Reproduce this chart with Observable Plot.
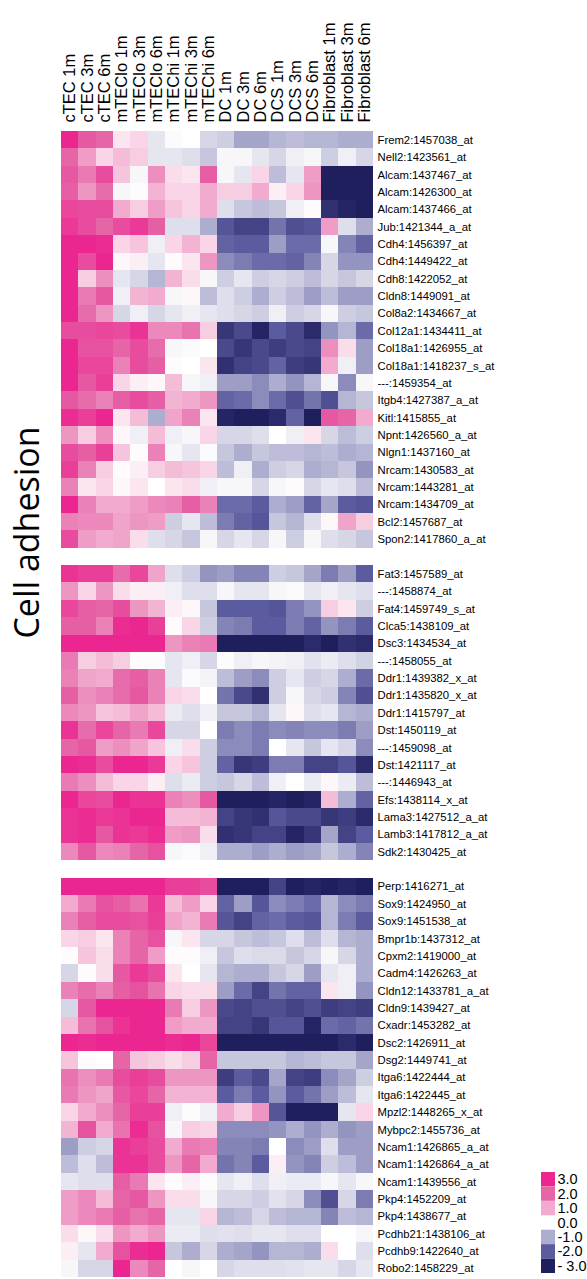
<!DOCTYPE html>
<html><head><meta charset="utf-8">
<script src="https://cdn.jsdelivr.net/npm/d3@7"></script>
<script src="https://cdn.jsdelivr.net/npm/@observablehq/plot@0.6"></script>
<style>
html,body{margin:0;padding:0;background:#fff;}
#wrap{position:relative;width:587px;height:1279px;overflow:hidden;}
#legend{position:absolute;left:535px;top:1165px;}
svg{overflow:visible;}
</style></head><body><div id="wrap"><div id="main"></div><div id="legend"></div></div>
<script>
const columns = ["cTEC 1m","cTEC 3m","cTEC 6m","mTEClo 1m","mTEClo 3m","mTEClo 6m","mTEChi 1m","mTEChi 3m","mTEChi 6m","DC 1m","DC 3m","DC 6m","DCS 1m","DCS 3m","DCS 6m","Fibroblast 1m","Fibroblast 3m","Fibroblast 6m"];

const block1Labels = ["Frem2:1457038_at","Nell2:1423561_at","Alcam:1437467_at","Alcam:1426300_at","Alcam:1437466_at","Jub:1421344_a_at","Cdh4:1456397_at","Cdh4:1449422_at","Cdh8:1422052_at","Cldn8:1449091_at","Col8a2:1434667_at","Col12a1:1434411_at","Col18a1:1426955_at","Col18a1:1418237_s_at","---:1459354_at","Itgb4:1427387_a_at","Kitl:1415855_at","Npnt:1426560_a_at","Nlgn1:1437160_at","Nrcam:1430583_at","Nrcam:1443281_at","Nrcam:1434709_at","Bcl2:1457687_at","Spon2:1417860_a_at"];
const block1Values = [
[3,2.2,2,0.3,0.5,-0.3,-0.05,0,-0.5,-0.6,-1.1,-1.1,-0.9,-0.8,-0.9,-0.9,-1,-1],
[2,1.2,0.5,0.8,0.6,-0.3,-0.3,-0.4,-0.7,-0.1,-0.1,-0.3,-0.5,-0.2,-0.1,-0.6,-0.2,-0.5],
[2.2,1.7,2.4,0.7,-0.1,1.4,0.4,0.3,2.1,-0.1,-0.3,0.5,-0.8,-0.3,1.2,-3,-3,-3],
[2.1,1.3,1.9,-0.1,0.05,0.9,0.5,0.5,1,0.6,0.6,1,0.2,0.5,1.3,-3,-3,-3],
[2.5,2.4,2.4,1,0.6,1.2,0.7,0.5,1,-0.4,-0.7,-0.8,-0.7,-0.2,0.05,-2.7,-2.9,-3],
[2.7,2.4,2,2.4,2.7,2.1,-0.4,-0.4,-1,-2.1,-2.4,-2.4,-1.7,-2.2,-2.1,1.2,-0.4,-1],
[3,3,2.9,0.5,0.7,-0.2,0.5,0.9,0.5,-1.9,-2,-2,-1.2,-1.8,-1.8,-0.1,-1.5,-1.9],
[3,2.4,3,0.1,0.2,-0.3,0.05,0.3,1.3,-1.4,-1.6,-1.8,-1.8,-1.9,-1.5,-0.5,-1.3,-1.3],
[3,0.6,1.4,-0.3,-0.5,-0.9,0.9,0.4,-0.1,-0.6,-0.3,-0.6,-0.5,-0.6,-0.8,-0.5,-0.7,-0.5],
[3,1.7,2.2,-0.2,0.9,1,-0.1,0.1,-0.8,-0.4,-0.6,-1,-0.6,-0.8,-1.2,-0.8,-1.2,-1.2],
[3,1.9,1.3,-0.5,-0.2,-0.5,-0.3,-0.2,-0.3,-0.4,-0.5,-0.6,-0.2,-0.6,-0.5,-0.1,-0.6,-0.7],
[2.4,2.4,2.5,2.4,2.8,1.5,1.5,1.8,0.6,-2.6,-2.3,-2.9,-2,-2.3,-2.8,-1.3,-0.9,-1.8],
[3,2.3,2.3,2,2.4,1.9,-0.1,-0.05,0,-2.3,-2.6,-2.3,-2.5,-2.3,-2.4,1.4,0.4,-1.2],
[3,2.5,2.5,1.6,2.4,2.1,0.05,0,0.3,-2.7,-2.4,-2.3,-1.9,-2.5,-2.6,1,-0.2,-1.2],
[3,2.2,2.6,0.5,0.2,0.1,0.8,-0.1,-0.2,-1.2,-1.2,-1.4,-1,-1.3,-0.9,-0.1,-1.4,-0.1],
[2.2,1.9,1.6,2.1,2.4,2.1,0.9,1,1.3,-1.9,-1.8,-1.4,-1.8,-2.2,-1.7,-2.2,-0.9,-0.7],
[2.9,2.6,3,0.3,0.8,-1,1.1,1.6,0.3,-2.9,-3,-3,-2.8,-1.9,-3.2,2.2,2,1],
[1.3,0.6,1.4,0.1,-0.2,0.8,-0.2,-0.1,0.5,-0.5,-0.5,-0.4,0,-0.2,0.3,-0.5,-0.8,-0.6],
[2.4,2.1,2.6,0.7,0.05,1.6,-0.1,-0.3,-0.05,-0.7,-1,-0.7,-0.8,-0.8,-0.9,-0.8,-1,-0.9],
[2.6,1.6,0.6,0.05,0.2,0.6,0.8,0.7,0.5,-0.8,-0.2,-1,-0.6,-0.5,-1,-0.9,-0.7,-1.3],
[1.6,0.3,0.5,0.1,0.3,0,0.3,0.4,-0.2,-0.1,-0.1,-0.5,-0.1,0.05,-0.5,-0.3,-0.4,-0.8],
[3,1.6,1,1,1.2,1.5,1.6,2.1,1.6,-1.8,-1.8,-2,-1,-1.2,-1.9,-1.1,-2,-2.1],
[1.6,1.5,1.5,1.1,1.3,1.2,-0.6,-0.3,-0.8,-1.6,-1.9,-2.1,-0.7,-0.9,-0.4,0.1,1.1,0.6],
[2.4,1.2,1,1.1,0.4,-0.4,-0.5,-0.7,-0.1,-0.5,-0.3,-0.5,-0.1,-0.6,-0.1,-0.4,-0.5,-0.7]
];

const block2Labels = ["Fat3:1457589_at","---:1458874_at","Fat4:1459749_s_at","Clca5:1438109_at","Dsc3:1434534_at","---:1458055_at","Ddr1:1439382_x_at","Ddr1:1435820_x_at","Ddr1:1415797_at","Dst:1450119_at","---:1459098_at","Dst:1421117_at","---:1446943_at","Efs:1438114_x_at","Lama3:1427512_a_at","Lamb3:1417812_a_at","Sdk2:1430425_at"];
const block2Values = [
[2.8,2.6,2.6,1.9,2.5,1.1,-0.4,-0.6,-1.3,-1.2,-1.5,-1.5,-0.6,-0.7,-1.1,-1.6,-1.2,-2],
[1.3,0.5,1.3,0.4,0.2,0.2,-0.2,-0.4,-0.4,-0.1,-0.3,-0.3,-0.1,-0.05,-0.3,-0.2,-0.3,-0.4],
[2.5,2.1,2,2.4,1.3,0.9,0.2,0.1,-0.7,-2,-2,-2,-2.1,-1.6,-1.3,0.6,0.3,-0.6],
[2.1,2.1,1.6,2.9,3,2.6,0.05,0.5,-0.6,-1.5,-1.6,-2,-2,-1.6,-1.9,-1.3,-1.6,-2],
[3,3,3,3,3,3,1.3,1.6,1.7,-3,-3,-3,-3,-3,-2.8,-3,-2.7,-2.8],
[1.7,0.6,0.8,0.6,0.05,0.05,-0.3,-0.2,-0.5,0.05,-0.2,-0.1,-0.15,-0.2,-0.35,-0.25,-0.4,-0.55],
[1.6,1.1,1,1.9,2.1,1.6,-0.3,-0.05,-0.15,-0.8,-1.2,-1.4,-0.6,-0.3,-0.6,-0.5,-1,-1.8],
[2.1,1.4,1.6,1.9,2.2,1.6,0.5,0.4,0,-1.7,-2.3,-2.7,-0.6,-0.1,-0.5,-0.6,-1.5,-2.2],
[1.5,1.3,0.7,0.8,1.1,0.8,-0.25,-0.4,-0.2,-0.7,-0.7,-0.9,-0.3,0.1,-0.4,-0.3,-0.9,-1],
[2.8,1.9,2.5,2,1.7,2.5,-0.5,-0.5,0,-1.6,-1.4,-1.6,-1.4,-1.5,-1.4,-1.4,-1.6,-1.2],
[2,2.2,1.2,1.4,1.1,0.7,-0.2,0.4,-0.6,-1.4,-1.4,-1.6,0,-0.3,-0.7,-0.3,-0.5,-1.4],
[3,2.9,2.4,3,3,2.7,0.5,0.7,-0.6,-1.9,-2.6,-2.5,-1.6,-1.6,-2.4,-2.4,-2.1,-2.8],
[1.7,1.4,0.8,0.5,0.5,0.2,-0.4,-0.25,-0.6,-0.7,-0.5,-0.8,-0.2,0,-0.25,0.1,-0.25,-0.8],
[3,2.5,2.4,3,2.8,2.8,1.6,1.4,2.2,-3,-3,-3,-2.9,-3,-2.9,0.8,-1,-1.9],
[2.8,2.9,2.7,2.8,3,3,0.8,0.8,0.9,-2.4,-2.6,-2.7,-2.1,-2.3,-2.3,-2.6,-2.5,-2.8],
[2.8,2.9,2.2,2.8,2.7,2.9,1.2,1.3,0.4,-2.7,-2.6,-2.4,-2.4,-2.9,-2.6,-1.1,-2.4,-2],
[1.5,2.2,1.5,1.6,2,2.3,-0.1,-0.05,-0.2,-1,-1,-1.2,-1,-1.2,-1.1,-0.7,-1,-1.5]
];

const block3Labels = ["Perp:1416271_at","Sox9:1424950_at","Sox9:1451538_at","Bmpr1b:1437312_at","Cpxm2:1419000_at","Cadm4:1426263_at","Cldn12:1433781_a_at","Cldn9:1439427_at","Cxadr:1453282_at","Dsc2:1426911_at","Dsg2:1449741_at","Itga6:1422444_at","Itga6:1422445_at","Mpzl2:1448265_x_at","Mybpc2:1455736_at","Ncam1:1426865_a_at","Ncam1:1426864_a_at","Ncam1:1439556_at","Pkp4:1452209_at","Pkp4:1438677_at","Pcdhb21:1438106_at","Pcdhb9:1422640_at","Robo2:1458229_at"];
const block3Values = [
[3,3,3,3,3,3,2.6,2.6,2.4,-3,-3,-3,-2.4,-3,-2.9,-3,-2.9,-3],
[1,1.7,2.3,2.1,1.8,2.7,0.8,1.2,0.5,-1.9,-1.2,-2.1,-1.4,-1.6,-1.8,-0.9,-1.4,-1.6],
[1.6,2.1,2.4,2.4,2.3,2.6,1.1,0.9,1.7,-2.1,-2.4,-1.9,-1.8,-2,-2.1,-0.9,-1.6,-2],
[0.5,0.6,0.3,1.6,2,2.3,-0.1,0.3,-0.5,-0.5,-0.7,-0.8,-0.7,-0.4,-0.8,-0.4,-0.9,-1],
[0.05,0.7,0.4,1.6,2,1.2,0.05,0.05,-0.2,-0.7,-0.4,-0.45,-0.45,-0.7,-0.5,-0.1,-0.5,-1],
[-0.5,0.05,0.4,2.2,2.7,2.4,0.3,0,-0.3,-0.9,-1,-1,-0.7,-0.5,-1.2,-0.3,-0.2,-1],
[1.6,1.9,1.6,2.1,2.3,1.8,0.5,0.4,0.4,-1.2,-1.8,-2.4,-1.7,-1.9,-1.9,0.3,-0.2,-1.3],
[-0.5,2.2,3,3,3,3,1.7,0.6,1.3,-2.3,-2.4,-2.2,-2.2,-2.4,-2.2,-2.5,-2.4,-2.5],
[0.8,1.8,2.3,2.8,3,3,1.2,1,1,-2.4,-2.4,-2.6,-2.1,-2.1,-2.9,-1.8,-1.9,-1.7],
[3,2.9,3,3,3,3,2.9,3,2.5,-3,-3,-3,-3,-3,-3,-3,-2.8,-3],
[0.7,0.05,0,2,0.7,0.6,0.4,0.6,2,-0.7,-0.7,-0.7,-0.7,-0.9,-0.8,-0.7,-0.7,-1.1],
[1.8,1.4,1.7,2.4,2.6,2.4,1.3,1.3,1.3,-2.5,-2,-2.3,-1.1,-2.4,-2.5,-1.4,-1.1,-0.6],
[1.7,1.3,1.1,2.2,2.5,2,0.9,0.9,0.9,-2,-1.6,-2,-1.3,-2,-1.7,-1.2,-0.8,-0.3],
[0.5,1,1.4,2,2.6,2.6,-0.2,0.05,-0.2,1,0.6,1.3,-2.1,-3,-3,-3,-0.3,0.5],
[0.9,2.3,1,1.8,2.9,2.3,-0.1,0.6,0.5,-1.4,-1.4,-1.4,-1.3,-1,-1.3,-1,-1.3,-1.2],
[-1.2,-0.6,-0.5,2.8,2.6,2.4,1,1.7,1.6,-1.5,-1.5,-1.6,0,-1.4,-1.2,-0.4,-1.2,-1.2],
[-0.8,-0.4,-0.8,2.8,2.8,2.4,1.3,2,1,-1.7,-1.5,-2,0.2,-1.3,-1.5,-0.6,-0.8,-1.2],
[-0.3,-0.4,-0.4,2.1,1.7,0.3,0.05,0.2,0.05,-0.3,-0.2,-0.4,-0.2,-0.25,-0.25,-0.1,-0.3,-0.1],
[1.2,1.5,0.8,2,2.2,1.3,0.4,0.4,-0.1,-0.5,-0.5,-0.6,-0.35,-0.5,-1.4,-2.2,-0.5,-1.6],
[1.2,1.5,1.7,2.1,1.8,2,-0.3,-0.3,0.5,-0.9,-0.8,-0.5,-0.8,-0.9,-0.9,-1.5,-0.8,-0.9],
[0.4,0.1,0.4,1.3,1,1.3,-0.25,-0.25,-0.4,-0.35,-0.4,-0.3,-0.3,-0.4,-0.4,0,0,-0.1],
[0.2,-0.3,1,2.3,2.9,3,-0.7,-1,-0.5,-1,-1.1,-1.3,-0.9,-0.9,-1,0.4,0,-0.4],
[-0.1,-0.5,-0.5,3,1.5,2,0,-0.1,0,-0.5,-0.4,-0.4,-0.4,-0.35,-0.3,-0.3,-0.5,-0.3]
];

const sideTitle = "Cell adhesion";
const legendValues = [3, 2, 1, 0, -1, -2, -3];
const legendLabels = ["3.0", "2.0", "1.0", "0.0", "-1.0", "-2.0", "- 3.0"];
const legendColors = ["#ec2690", "#e565a7", "#f2abce", "#ffffff", "#adadcf", "#5b5b9f", "#1f1f5e"];

// build tidy table
const data = [];
function addBlock(labels, values) {
  labels.forEach((lab, i) => columns.forEach((c, j) => data.push({row: lab, col: c, value: values[i][j]})));
}
addBlock(block1Labels, block1Values);
addBlock(block2Labels, block2Values);
addBlock(block3Labels, block3Values);
const yDomain = [...block1Labels, "gap1", ...block2Labels, "gap2", ...block3Labels];

const colorScale = {
  type: "linear",
  domain: legendValues.slice().reverse(),
  range: legendColors.slice().reverse(),
  interpolate: "rgb",
  clamp: true
};
const font = "'Liberation Sans', Arial, Helvetica, sans-serif";

const main = Plot.plot({
  width: 587,
  height: 1279,
  marginTop: 131,
  marginBottom: 2,
  marginLeft: 61,
  marginRight: 214,
  style: {fontFamily: font, color: "#000", background: "#fff"},
  x: {domain: columns, padding: 0, round: false, axis: null},
  y: {domain: yDomain, padding: 0, round: false, axis: null},
  color: colorScale,
  marks: [
    Plot.cell(data, {x: "col", y: "row", fill: "value", inset: 0, shapeRendering: "crispEdges"}),
    Plot.axisX({anchor: "top", tickRotate: -90, tickSize: 0, tickPadding: 9, fontSize: 16.5, label: null, fill: "#000"}),
    Plot.axisY({anchor: "right", tickSize: 0, tickPadding: 4, fontSize: 11.3, label: null, fill: "#000",
      tickFormat: d => d.startsWith("gap") ? "" : d}),
    Plot.text([sideTitle], {frameAnchor: "left", rotate: -90, dx: -33, dy: -172, fontSize: 34,
      fontFamily: "'Open Sans', 'Noto Sans', sans-serif", textAnchor: "middle", lineAnchor: "middle", fill: "#000"})
  ]
});
document.getElementById("main").appendChild(main);

const legend = Plot.plot({
  width: 52,
  height: 113,
  marginTop: 7,
  marginBottom: 5,
  marginLeft: 6,
  marginRight: 32,
  style: {fontFamily: font, color: "#000", background: "transparent"},
  y: {domain: legendValues, padding: 0, round: false, axis: null},
  color: colorScale,
  marks: [
    Plot.cell(legendValues.filter(v => v !== 0), {y: d => d, fill: d => d, inset: 0}),
    Plot.text(legendValues, {y: d => d, text: (d, i) => legendLabels[i], frameAnchor: "right", textAnchor: "start",
      dx: 2, fontSize: 14.5, fill: "#000"})
  ]
});
document.getElementById("legend").appendChild(legend);
</script></body></html>
